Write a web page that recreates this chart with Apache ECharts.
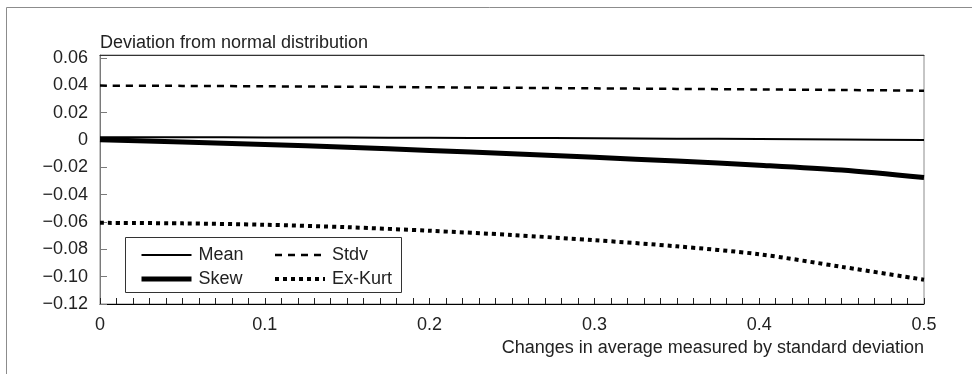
<!DOCTYPE html>
<html>
<head>
<meta charset="utf-8">
<script src="https://cdn.jsdelivr.net/npm/echarts@6/dist/echarts.min.js"></script>
<style>
  html, body { margin: 0; padding: 0; background: #fff; }
  #chart { width: 972px; height: 374px; }
</style>
</head>
<body>
<div id="chart"></div>
<script>
// Shift of the mean, in units of standard deviation
const xs = [0, 0.05, 0.1, 0.15, 0.2, 0.25, 0.3, 0.35, 0.4, 0.45, 0.5];

// Deviation of each moment from the normal distribution
const meanVals = [0.0020, 0.0020, 0.0019, 0.0018, 0.0016, 0.0015, 0.0013, 0.0010, 0.0007, 0.0004, 0.0000];
const stdvVals = [0.0398, 0.0396, 0.0393, 0.0390, 0.0386, 0.0382, 0.0378, 0.0374, 0.0370, 0.0366, 0.0361];
const skewVals = [0.0002, -0.0015, -0.0033, -0.0053, -0.0076, -0.0101, -0.0127, -0.0154, -0.0184, -0.0220, -0.0275];
const kurtVals = [-0.0606, -0.0610, -0.0620, -0.0638, -0.0664, -0.0695, -0.0733, -0.0778, -0.0836, -0.0928, -0.1022];

// Legend columns
const legendLeftCol = ['Mean', 'Skew'];
const legendRightCol = ['Stdv', 'Ex-Kurt'];

const yTitle = 'Deviation from normal distribution';
const xTitle = 'Changes in average measured by standard deviation';

const FONT = 'Liberation Sans, Arial, sans-serif';
const TEXT = '#222';

function pairs(vals) {
  return xs.map((x, i) => [x, vals[i]]);
}

function fmtY(v) {
  const r = Math.round(v * 100) / 100;
  if (Math.abs(v - r) > 1e-9) return '';
  if (r === 0) return '0';
  const s = Math.abs(r).toFixed(2);
  return r < 0 ? '\u2212' + s : s;
}

const chart = echarts.init(document.getElementById('chart'), null, { renderer: 'canvas' });

const lineSeries = (name, vals, width, type) => ({
  name: name,
  type: 'line',
  data: pairs(vals),
  xAxisIndex: 0,
  yAxisIndex: 0,
  symbol: 'none',
  smooth: 0.3,
  silent: true,
  lineStyle: { color: '#000', width: width, type: type, cap: 'butt' },
  itemStyle: { color: '#000' }
});

const legendColumn = (names, left) => ({
  data: names,
  left: left, top: 246,
  orient: 'vertical',
  padding: 0,
  itemGap: 6,
  itemWidth: 50,
  itemHeight: 18,
  selectedMode: false,
  z: 6,
  itemStyle: { opacity: 0 },
  lineStyle: { width: 'inherit', type: 'inherit', color: '#000', cap: 'butt' },
  textStyle: { fontFamily: FONT, fontSize: 18, color: TEXT, padding: [0, 0, 0, 2] }
});

chart.setOption({
  animation: false,
  backgroundColor: '#fff',
  textStyle: { fontFamily: FONT },
  graphic: [
    {
      // outer frame of the figure
      type: 'rect', silent: true, z: -10,
      shape: { x: 6.5, y: 7.5, width: 1200, height: 800 },
      style: { fill: 'none', stroke: '#8c8c8c', lineWidth: 1 }
    },
    {
      // legend box
      type: 'rect', silent: true, z: 5,
      shape: { x: 125.5, y: 237.5, width: 276, height: 55 },
      style: { fill: '#fff', stroke: '#333', lineWidth: 1 }
    }
  ],
  title: [
    {
      text: yTitle, left: 100, top: 34, padding: 0,
      textStyle: { fontFamily: FONT, fontSize: 18, fontWeight: 'normal', color: TEXT }
    },
    {
      text: xTitle, right: 48, top: 339, padding: 0,
      textStyle: { fontFamily: FONT, fontSize: 18, fontWeight: 'normal', color: TEXT }
    }
  ],
  legend: [legendColumn(legendLeftCol, 139), legendColumn(legendRightCol, 273)],
  grid: {
    left: 100, right: 48, top: 55, bottom: 70,
    show: true, borderColor: '#8c8c8c', borderWidth: 1
  },
  xAxis: [
    {
      type: 'value', min: 0, max: 0.5, interval: 0.1,
      axisLine: { show: true, onZero: false, lineStyle: { color: '#000', width: 1 } },
      axisTick: { show: true, inside: true, length: 6, lineStyle: { color: '#222' } },
      minorTick: { show: true, splitNumber: 10, length: 6, lineStyle: { color: '#222' } },
      splitLine: { show: false },
      axisLabel: {
        fontFamily: FONT, fontSize: 18, color: TEXT, margin: 12,
        formatter: v => (v === 0 ? '0' : String(Math.round(v * 10) / 10))
      }
    },
    {
      type: 'value', min: 0, max: 0.5, position: 'top',
      axisLine: { show: true, onZero: false, lineStyle: { color: '#333', width: 1 } },
      axisTick: { show: false }, axisLabel: { show: false }, splitLine: { show: false }
    }
  ],
  yAxis: {
    type: 'value', min: -0.12, max: 0.0622, interval: 0.02,
    axisLine: { show: true, onZero: false, lineStyle: { color: '#7a7a7a', width: 1 } },
    axisTick: { show: true, inside: true, length: 7, lineStyle: { color: '#7a7a7a' } },
    splitLine: { show: false },
    axisLabel: {
      fontFamily: FONT, fontSize: 18, color: TEXT, margin: 12,
      showMaxLabel: false, formatter: fmtY
    }
  },
  series: [
    lineSeries('Mean', meanVals, 2, 'solid'),
    lineSeries('Stdv', stdvVals, 2.5, [7, 6]),
    lineSeries('Skew', skewVals, 5, 'solid'),
    lineSeries('Ex-Kurt', kurtVals, 4, [4, 4])
  ]
});
</script>
</body>
</html>
